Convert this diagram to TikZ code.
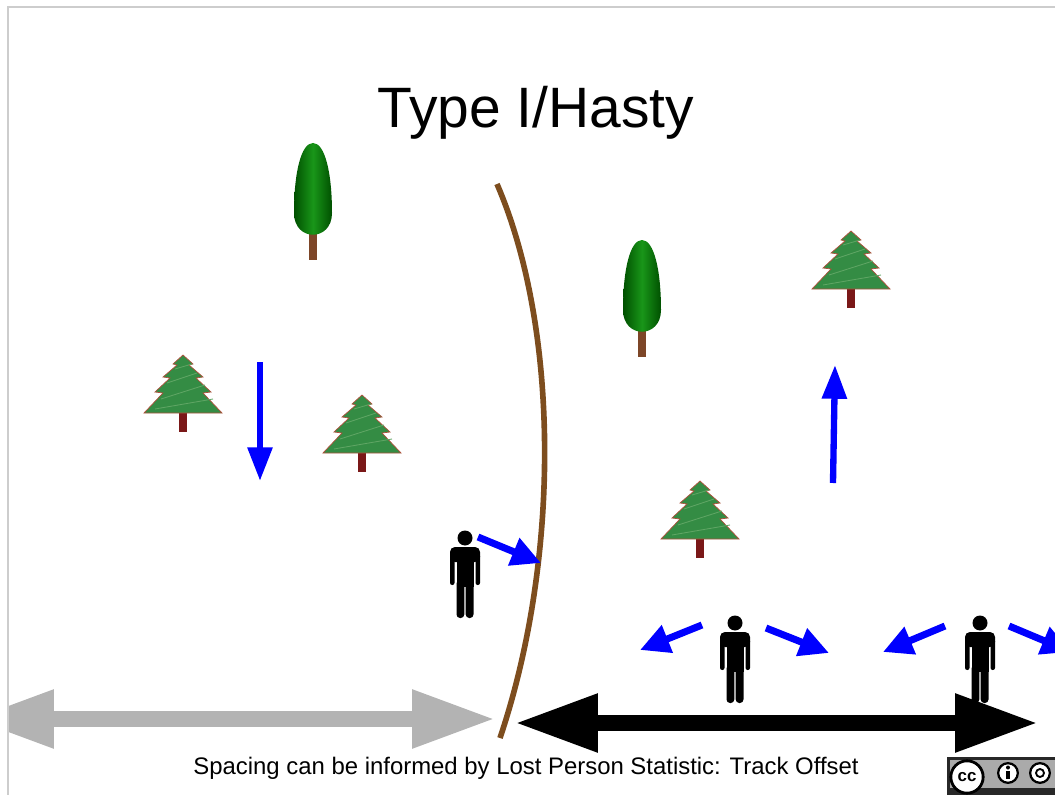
\documentclass[tikz,border=0pt]{standalone}
\usepackage{fontspec}
\setmainfont{Liberation Sans}
\usetikzlibrary{arrows.meta}

\definecolor{trailbrown}{RGB}{125,77,30}
\definecolor{firgreen}{RGB}{52,140,68}
\definecolor{firstreak}{RGB}{95,165,100}
\definecolor{firedge}{RGB}{175,80,60}
\definecolor{firtrunk}{RGB}{122,24,24}
\definecolor{cypressdark}{RGB}{0,80,0}
\definecolor{cypresslight}{RGB}{25,150,25}
\definecolor{cypresstrunk}{RGB}{125,70,40}
\definecolor{slideedge}{RGB}{205,205,205}
\definecolor{spacegray}{RGB}{179,179,179}
\definecolor{ccframe}{RGB}{40,40,40}
\definecolor{ccband}{RGB}{170,170,170}

\tikzstyle{sweep} = [blue, line width=5pt, -{Triangle[length=21pt,width=20pt]}]
\tikzstyle{bigsweep} = [blue, line width=4.5pt, -{Triangle[length=24pt,width=17pt]}]
\tikzstyle{spacing} = [line width=11pt, {Triangle[length=59pt,width=39pt]}-{Triangle[length=59pt,width=39pt]}]
\tikzstyle{trail} = [trailbrown, line width=4pt]
\tikzstyle{ccring} = [fill=white, draw=black, line width=1.6pt]

% little pictures, origin at the top centre, one unit = one pixel
\tikzset{
  fir/.pic={
    \fill[firtrunk] (-4,56) rectangle (4,77);
    \filldraw[fill=firgreen, draw=firedge, line width=0.5pt]
      (0,0) -- (10,9) -- (6,10) -- (20,22) -- (13,23) -- (28,37) -- (20,38)
      -- (39,58) -- (-39,58) -- (-20,38) -- (-28,37) -- (-13,23) -- (-20,22)
      -- (-6,10) -- (-10,9) -- cycle;
    \draw[firstreak, line width=0.6pt] (-8,14) -- (9,9) (-16,28) -- (14,18)
      (-22,44) -- (22,30) (-28,54) -- (30,44);
  },
  cypress/.pic={
    \fill[cypresstrunk] (-4,88) rectangle (4,117);
    \shade[left color=cypressdark, right color=cypressdark, middle color=cypresslight]
      (0,0) .. controls (12,0) and (19,30) .. (19,70)
      .. controls (19,99) and (-19,99) .. (-19,70)
      .. controls (-19,30) and (-12,0) .. (0,0);
  },
  hiker/.pic={
    \fill (0,8) circle (7.5);
    \fill[rounded corners=3.5pt] (-15,17) rectangle (15,32);
    \fill[rounded corners=1.5pt] (-15,24) rectangle (-10.5,55);
    \fill[rounded corners=1.5pt] (10.5,24) rectangle (15,55);
    \fill (-8.5,20) rectangle (8.5,57);
    \fill[rounded corners=2.5pt] (-8.5,50) rectangle (-0.7,88);
    \fill[rounded corners=2.5pt] (0.7,50) rectangle (8.5,88);
  }
}

\begin{document}
\begin{tikzpicture}[x=0.025cm, y=-0.025cm]
\useasboundingbox (0,0) rectangle (1055,795);
\draw[slideedge, line width=1pt] (8,795) -- (8,7) -- (1055,7);

\node (title) at (536,128) [anchor=base, font=\fontsize{40.5}{48}\selectfont] {Type I/Hasty};

% trees
\pic (cyp1) at (313,143) {cypress};
\pic (cyp2) at (642,240) {cypress};
\pic (fir1) at (183,355) {fir};
\pic (fir2) at (362,395) {fir};
\pic (fir3) at (851,231) {fir};
\pic (fir4) at (700,481) {fir};

% trail
\coordinate (trailtop) at (497,184);
\coordinate (trailbot) at (500,738);
\draw[trail] (trailtop) .. controls (560,330) and (560,560) .. (trailbot);

% searchers
\pic (p1) at (465,530) {hiker};
\pic (p2) at (735,615) {hiker};
\pic (p3) at (980,615) {hiker};

% search directions
\coordinate (d1a) at (260,362);  \coordinate (d1b) at (260,481);
\coordinate (d2a) at (833,483);  \coordinate (d2b) at (835,365);
\coordinate (d3a) at (478,537);  \coordinate (d3b) at (541,563);
\coordinate (d4a) at (702,625);  \coordinate (d4b) at (640,650);
\coordinate (d5a) at (766,628);  \coordinate (d5b) at (829,653);
\coordinate (d6a) at (945,626);  \coordinate (d6b) at (883,652);
\coordinate (d7a) at (1009,626); \coordinate (d7b) at (1071,652);
\draw[bigsweep] (d1a) -- (d1b);
\draw[bigsweep] (d2a) -- (d2b);
\draw[sweep] (d3a) -- (d3b);
\draw[sweep] (d4a) -- (d4b);
\draw[sweep] (d5a) -- (d5b);
\draw[sweep] (d6a) -- (d6b);
\draw[sweep] (d7a) -- (d7b);

% spacing arrows
\coordinate (gl) at (-29,719);
\coordinate (gr) at (495,719);
\coordinate (bl) at (515,723);
\coordinate (br) at (1038,723);
\begin{scope}
  \clip (9,0) rectangle (1055,795);
  \draw[spacing, spacegray] (gl) -- (gr);
\end{scope}
\draw[spacing, black] (bl) -- (br);

\node (note) at (526,774) [anchor=base, font=\fontsize{17}{20}\selectfont]
  {Spacing can be informed by Lost Person Statistic: Track Offset};

% licence badge
\fill[ccframe] (947,757) rectangle (1055,795);
\fill[ccband] (950,760) rectangle (1055,788);
\node (ccby) at (1008,773) [circle, ccring, minimum size=14pt, inner sep=0pt] {};
\fill (ccby) +(0,-5.5) circle (2);
\fill (ccby) ++(-2.2,-2) rectangle ++(4.4,8);
\node (ccsa) at (1040,773) [circle, ccring, minimum size=14pt, inner sep=0pt] {};
\draw[line width=1.3pt] (ccsa) circle (4);
\node (cc) at (967,777) [circle, ccring, line width=2pt, minimum size=23pt, inner sep=0pt,
  font=\bfseries\fontsize{12}{12}\selectfont] {cc};
\end{tikzpicture}
\end{document}
